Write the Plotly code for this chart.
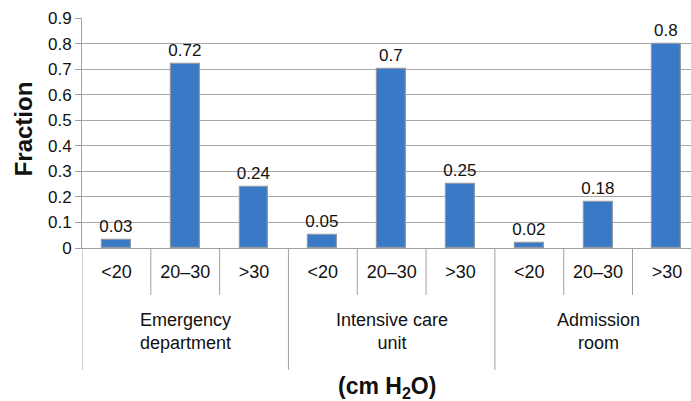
import plotly.graph_objects as go

groups = ["Emergency<br>department", "Intensive care<br>unit", "Admission<br>room"]
subcats = ["<20", "20–30", ">30"]
values = [0.03, 0.72, 0.24, 0.05, 0.70, 0.25, 0.02, 0.18, 0.80]
labels = ["0.03", "0.72", "0.24", "0.05", "0.7", "0.25", "0.02", "0.18", "0.8"]
yticks = [0, 0.1, 0.2, 0.3, 0.4, 0.5, 0.6, 0.7, 0.8, 0.9]
ytick_text = ["0", "0.1", "0.2", "0.3", "0.4", "0.5", "0.6", "0.7", "0.8", "0.9"]

n = len(values)
xs = list(range(n))
sub_text = [subcats[i % 3] for i in range(n)]

FAM = "Liberation Sans, Arial"
font = dict(family=FAM, size=18, color="#111")
small = dict(family=FAM, size=17, color="#111")

fig = go.Figure()
fig.add_trace(go.Bar(
    x=xs, y=values, width=0.42,
    marker=dict(color="#3a79c6", line=dict(color="#8f9aa8", width=1.2)),
    text=labels, textposition="outside", cliponaxis=False,
    constraintext="none", textfont=small,
))

shapes = []
for k in range(n + 1):
    xb = k - 0.5
    is_group = (k % 3 == 0)
    shapes.append(dict(type="line", xref="x", yref="paper", x0=xb, x1=xb,
                       y0=0, y1=-0.53 if is_group else -0.204,
                       line=dict(color="#a0a0a0", width=1)))
annotations = []
for g, name in enumerate(groups):
    annotations.append(dict(x=g * 3 + 1, y=-0.365, xref="x", yref="paper",
                            text=name, showarrow=False, font=font,
                            yanchor="middle"))
annotations.append(dict(x=0.5, y=-0.605, xref="paper", yref="paper",
                        xanchor="center", yanchor="middle",
                        text="<b>(cm H<sub>2</sub>O)</b>", showarrow=False,
                        font=dict(family=FAM, size=23, color="#111")))
annotations.append(dict(x=-0.097, y=0.52, xref="paper", yref="paper",
                        xanchor="center", yanchor="middle", textangle=-90,
                        text="<b>Fraction</b>", showarrow=False,
                        font=dict(family=FAM, size=24, color="#111")))

fig.update_layout(
    width=691, height=401,
    margin=dict(l=82, r=0, t=18, b=153),
    paper_bgcolor="white", plot_bgcolor="white",
    showlegend=False, bargap=0,
    shapes=shapes, annotations=annotations,
    font=font,
)
fig.update_xaxes(
    range=[-0.5, 8.35], tickvals=xs, ticktext=sub_text, ticks="",
    showgrid=False, zeroline=False, showline=True, linecolor="#a0a0a0",
    tickfont=font, ticklabelstandoff=7, automargin=False,
)
fig.update_yaxes(
    range=[0, 0.9], tickvals=yticks, ticktext=ytick_text,
    showgrid=True, gridcolor="#a8a8a8", gridwidth=1,
    zeroline=False, showline=True, linecolor="#a0a0a0",
    ticks="outside", ticklen=6, tickcolor="#a0a0a0",
    tickfont=small, automargin=False,
)
fig.write_html("out.html", config={"displayModeBar": False},
               post_script="document.body.style.margin='0';document.body.style.overflow='hidden';")
